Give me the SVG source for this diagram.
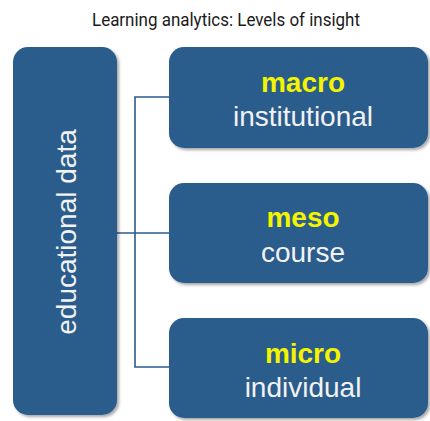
<svg xmlns="http://www.w3.org/2000/svg" width="430" height="421" viewBox="0 0 430 421">
  <style>
    .box { fill: #2b5b8c; filter: url(#sh); }
    .lvl { font-family: "Liberation Sans", Arial, sans-serif; font-size: 28px; font-weight: bold; fill: #f4f400; text-anchor: middle; }
    .sub { font-family: "Liberation Sans", Arial, sans-serif; font-size: 28px; fill: #f2f2f2; text-anchor: middle; }
    .conn { fill: none; stroke: #2b5b8c; stroke-width: 1.6; }
  </style>
  <defs>
    <filter id="sh" x="-10%" y="-10%" width="130%" height="130%">
      <feDropShadow dx="2" dy="2" stdDeviation="1.8" flood-color="#000" flood-opacity="0.35"/>
    </filter>
  </defs>
  <rect width="430" height="421" fill="#ffffff"/>
  <text x="92" y="25.7" font-family="Roboto, 'Liberation Sans', sans-serif" font-size="18.5" fill="#1a1a1a" textLength="268" lengthAdjust="spacingAndGlyphs">Learning analytics: Levels of insight</text>
  <g id="connectors">
    <path class="conn" d="M169,97 H135 V367 H169"/>
    <path class="conn" d="M117,233 H169"/>
  </g>
  <g id="educational-data">
    <rect class="box" x="13" y="47" width="104" height="368" rx="15"/>
    <text class="sub" transform="translate(76,232) rotate(-90)" x="0" y="0">educational data</text>
  </g>
  <g id="macro">
    <rect class="box" x="169" y="47" width="259" height="101" rx="15"/>
    <text class="lvl" x="303" y="92">macro</text>
    <text class="sub" x="303" y="126">institutional</text>
  </g>
  <g id="meso">
    <rect class="box" x="169" y="183" width="259" height="100" rx="15"/>
    <text class="lvl" x="303" y="227">meso</text>
    <text class="sub" x="303" y="262">course</text>
  </g>
  <g id="micro">
    <rect class="box" x="169" y="318" width="259" height="100" rx="15"/>
    <text class="lvl" x="303" y="363">micro</text>
    <text class="sub" x="303" y="397">individual</text>
  </g>
</svg>
